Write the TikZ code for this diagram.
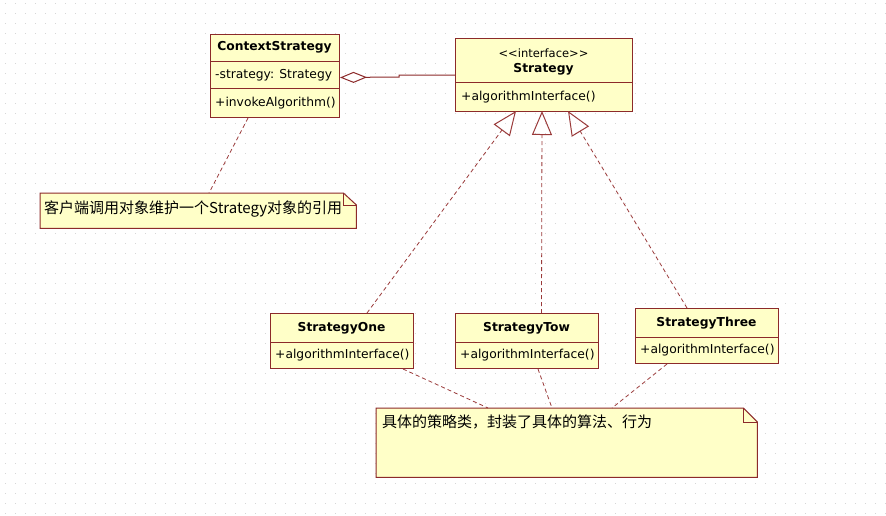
\documentclass[tikz,border=0pt]{standalone}
\usepackage{fontspec}
\setmainfont{DejaVu Sans}
\newfontfamily\cjk{Noto Sans CJK SC}
\usetikzlibrary{arrows.meta,calc}
\definecolor{umlfill}{HTML}{FFFFC8}
\definecolor{umlline}{HTML}{8C2A2A}
\definecolor{dashline}{HTML}{9A3A3A}
\definecolor{griddot}{HTML}{D6D6D6}
\begin{document}
\begin{tikzpicture}[x=1pt,y=-1pt,
  clsbox/.style={draw=umlline, fill=umlfill, line width=1pt, anchor=north west, inner sep=0pt},
  divider/.style={draw=umlline, line width=1pt},
  titletext/.style={inner sep=0pt, font=\fontsize{12.3}{14}\selectfont\bfseries},
  stereotext/.style={inner sep=0pt, font=\fontsize{11.5}{13}\selectfont},
  membertext/.style={inner sep=0pt, anchor=west, font=\fontsize{12.3}{14}\selectfont},
  notetext/.style={inner sep=0pt, anchor=west, font=\cjk\fontsize{15}{17}\selectfont},
  noteframe/.style={inner sep=0pt, anchor=north west},
  notefill/.style={draw=umlline, fill=umlfill, line width=1pt},
  depline/.style={draw=dashline, line width=0.8pt, dash pattern=on 4pt off 3pt},
  realize/.style={depline, -{Triangle[open, length=24pt, width=20pt, line width=1pt, sep=0pt]}},
  aggr/.style={draw=umlline, line width=1pt, {Diamond[open, length=27pt, width=11pt, line width=1pt]}-}
]
\useasboundingbox (0,0) rectangle (886,515);
\fill[white] (0,0) rectangle (886,515);
\foreach \gx in {5,15,...,885} {
  \foreach \gy in {3,13,...,513} {
    \fill[griddot] (\gx,\gy) rectangle ++(1,1);
  }
}

% ContextStrategy
\node[clsbox, minimum width=129pt, minimum height=83pt] (ctx) at (210,34) {};
\draw[divider] ($(ctx.north west)+(0,27)$) -- ($(ctx.north east)+(0,27)$);
\draw[divider] ($(ctx.north west)+(0,54)$) -- ($(ctx.north east)+(0,54)$);
\node[titletext] (ctxname) at (274.5,47.5) {ContextStrategy};
\node[membertext] (ctxattr) at (215,75) {-strategy: Strategy};
\node[membertext] (ctxop) at (215,103) {+invokeAlgorithm()};

% Strategy interface
\node[clsbox, minimum width=177pt, minimum height=73pt] (strat) at (455,38) {};
\draw[divider] ($(strat.north west)+(0,44)$) -- ($(strat.north east)+(0,44)$);
\node[stereotext] (stratster) at (543.5,53) {<{}<interface>{}>};
\node[titletext] (stratname) at (543.5,69) {Strategy};
\node[membertext] (stratop) at (461,97) {+algorithmInterface()};

% StrategyOne
\node[clsbox, minimum width=143pt, minimum height=55pt] (one) at (270,313) {};
\draw[divider] ($(one.north west)+(0,29)$) -- ($(one.north east)+(0,29)$);
\node[titletext] (onename) at (341.5,328) {StrategyOne};
\node[membertext] (oneop) at (275,355) {+algorithmInterface()};

% StrategyTow
\node[clsbox, minimum width=143pt, minimum height=55pt] (tow) at (455,313) {};
\draw[divider] ($(tow.north west)+(0,29)$) -- ($(tow.north east)+(0,29)$);
\node[titletext] (towname) at (526.5,328) {StrategyTow};
\node[membertext] (towop) at (460,355) {+algorithmInterface()};

% StrategyThree
\node[clsbox, minimum width=143pt, minimum height=55pt] (three) at (635,308) {};
\draw[divider] ($(three.north west)+(0,29)$) -- ($(three.north east)+(0,29)$);
\node[titletext] (threename) at (706.5,323) {StrategyThree};
\node[membertext] (threeop) at (640,350) {+algorithmInterface()};

% Note 1
\node[noteframe, minimum width=316pt, minimum height=35pt] (note1) at (40,193) {};
\path[notefill] (note1.north west) -- ($(note1.north east)+(-13,0)$) -- ($(note1.north east)+(0,12)$)
  -- (note1.south east) -- (note1.south west) -- cycle;
\draw[divider] ($(note1.north east)+(-13,0)$) -- ($(note1.north east)+(-13,12)$) -- ($(note1.north east)+(0,12)$);
\node[notetext] (note1text) at (44,209) {客户端调用对象维护一个Strategy对象的引用};

% Note 2
\node[noteframe, minimum width=381pt, minimum height=69pt] (note2) at (376,408) {};
\path[notefill] (note2.north west) -- ($(note2.north east)+(-14,0)$) -- ($(note2.north east)+(0,14)$)
  -- (note2.south east) -- (note2.south west) -- cycle;
\draw[divider] ($(note2.north east)+(-14,0)$) -- ($(note2.north east)+(-14,14)$) -- ($(note2.north east)+(0,14)$);
\node[notetext] (note2text) at (382,422) {具体的策略类，封装了具体的算法、行为};

% Aggregation
\coordinate (jog1) at (399,77);
\coordinate (jog2) at (399,75);
\draw[aggr] ($(ctx.east)+(0,1.5)$) -- (jog1) -- (jog2) -- (strat.west);

% Realizations
\coordinate (tip1) at (516,111);
\coordinate (tip2) at (542,111);
\coordinate (tip3) at (568,111);
\draw[realize] ($(one.north west)+(97,0)$) -- (tip1);
\draw[realize] ($(tow.north west)+(86.5,0)$) -- (tip2);
\draw[realize] ($(three.north west)+(52,0)$) -- (tip3);

% Note anchors
\draw[depline] ($(ctx.south west)+(38,0)$) -- ($(note1.north west)+(169,0)$);
\draw[depline] ($(one.south west)+(133,0)$) -- ($(note2.north west)+(112,0)$);
\draw[depline] ($(tow.south west)+(83,0)$) -- ($(note2.north west)+(176,0)$);
\draw[depline] ($(three.south west)+(32,0)$) -- ($(note2.north west)+(236,0)$);
\end{tikzpicture}
\end{document}
